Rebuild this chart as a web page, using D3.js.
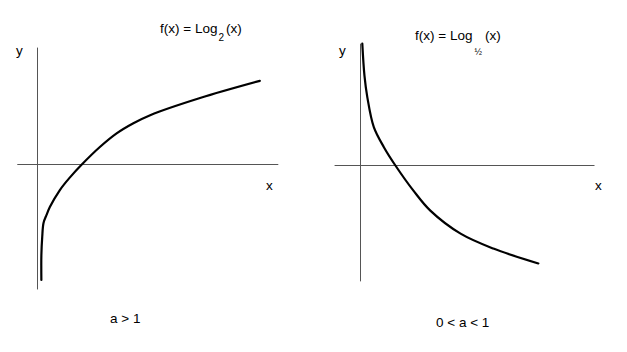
<!DOCTYPE html>
<html>
<head>
<meta charset="utf-8">
<script src="https://cdn.jsdelivr.net/npm/d3@7"></script>
<style>
  body { margin: 0; background: #fff; }
  svg text { font-family: "Liberation Sans", Arial, sans-serif; fill: #000; }
</style>
</head>
<body>
<svg id="chart" width="627" height="352"></svg>
<script>
// points, in function units (x, y)
var growX = [0.09, 0.09, 0.11, 0.14, 0.21, 0.29, 0.52, 0.76, 1.03, 1.45, 1.84, 2.23, 2.62, 3.78, 5.17];
var growY = [-3.30, -2.59, -2.07, -1.67, -1.44, -1.21, -0.73, -0.36, 0, 0.50, 0.89, 1.18, 1.41, 1.90, 2.39];

var decayX = [0.05, 0.11, 0.19, 0.37, 0.65, 0.97, 1.47, 1.94, 2.78, 3.69, 4.94];
var decayY = [2.86, 2.11, 1.60, 0.90, 0.43, 0, -0.59, -1.06, -1.60, -1.95, -2.30];

// axis extents in the same units
var growAxisX = [-0.47, 5.6], growAxisY = [-3.57, 3.34];
var decayAxisX = [-0.72, 6.5], decayAxisY = [-2.72, 2.86];

var svg = d3.select("#chart");

function drawPanel(opts) {
  var x = d3.scaleLinear().domain([0, 1]).range([opts.ox, opts.ox + opts.ux]);
  var y = d3.scaleLinear().domain([0, 1]).range([opts.oy, opts.oy - opts.uy]);
  var g = svg.append("g");

  // axes
  g.append("line")
    .attr("x1", x(opts.axisX[0])).attr("x2", x(opts.axisX[1]))
    .attr("y1", y(0)).attr("y2", y(0))
    .attr("stroke", "#555").attr("stroke-width", 1);
  g.append("line")
    .attr("x1", x(0)).attr("x2", x(0))
    .attr("y1", y(opts.axisY[0])).attr("y2", y(opts.axisY[1]))
    .attr("stroke", "#555").attr("stroke-width", 1);

  var pts = opts.xs.map(function(v, i) { return [v, opts.ys[i]]; });
  var line = d3.line()
    .x(function(d) { return x(d[0]); })
    .y(function(d) { return y(d[1]); })
    .curve(d3.curveCatmullRom.alpha(0.5));

  g.append("path")
    .datum(pts)
    .attr("d", line)
    .attr("fill", "none")
    .attr("stroke", "#000")
    .attr("stroke-width", 2.2)
    .attr("stroke-linecap", "round");

  return g;
}

drawPanel({ ox: 37.5, oy: 164.5, ux: 43, uy: 35,
  xs: growX, ys: growY, axisX: growAxisX, axisY: growAxisY });
drawPanel({ ox: 360.5, oy: 165.5, ux: 36, uy: 42.6,
  xs: decayX, ys: decayY, axisX: decayAxisX, axisY: decayAxisY });

function label(txt, xp, yp, size) {
  return svg.append("text").attr("x", xp).attr("y", yp)
    .style("font-size", (size || 13.5) + "px").text(txt);
}

label("y", 16, 55);
label("x", 266, 190);
label("y", 339, 55);
label("x", 595, 190);
label("a > 1", 110, 323);
label("0 < a < 1", 436, 327);

// titles
var t1 = svg.append("text").attr("x", 160).attr("y", 33).style("font-size", "13.5px");
t1.append("tspan").text("f(x) = Log");
t1.append("tspan").attr("dx", 1).attr("dy", 8).style("font-size", "10px").text("2");
t1.append("tspan").attr("dx", 2).attr("dy", -8).text("(x)");

var t2 = svg.append("text").attr("x", 415).attr("y", 40).style("font-size", "13.5px");
t2.append("tspan").text("f(x) = Log");
t2.append("tspan").attr("dx", 2).attr("dy", 15).style("font-size", "9px").text("\u00BD");
t2.append("tspan").attr("dx", 3).attr("dy", -15).text("(x)");
</script>
</body>
</html>
